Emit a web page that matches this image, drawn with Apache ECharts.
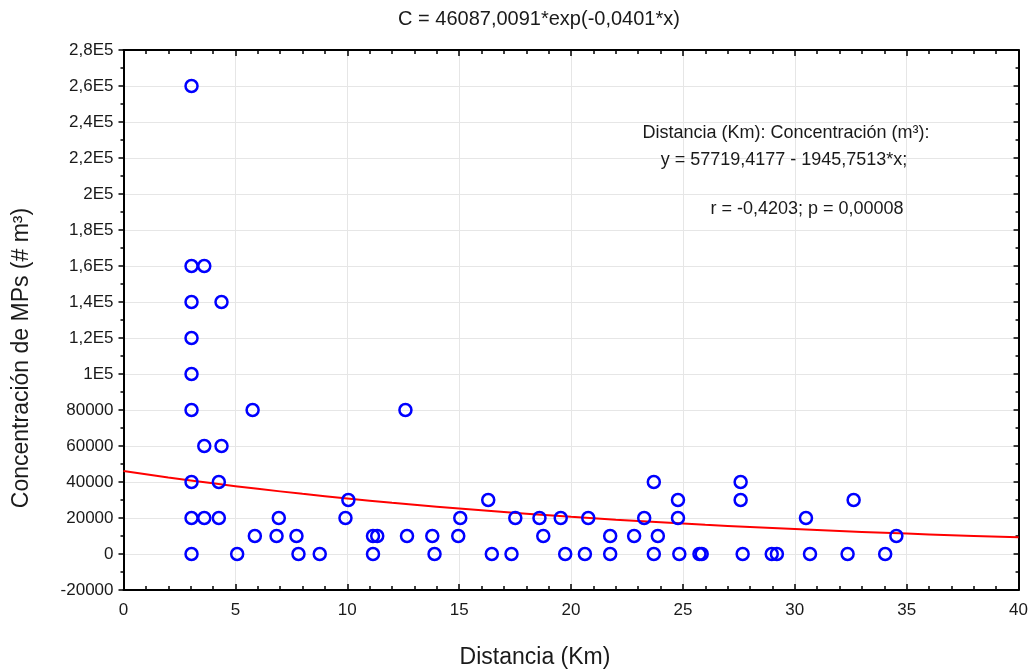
<!DOCTYPE html>
<html>
<head>
<meta charset="utf-8">
<script src="https://cdn.jsdelivr.net/npm/echarts@6/dist/echarts.min.js"></script>
<style>
  html, body { margin: 0; padding: 0; background: #fff; }
  #chart { width: 1031px; height: 669px; }
</style>
</head>
<body>
<div id="chart"></div>
<script>
// distance (km) of each sample
const distancia = [
  3.04, 3.04, 3.61, 3.04, 4.38, 3.04, 3.04, 3.04, 5.77, 3.61, 4.38,
  3.04, 4.26, 3.04, 3.61, 4.26, 6.94, 5.87, 6.84, 7.73, 3.04, 5.08,
  7.82, 8.77, 9.92, 10.05, 11.15, 11.34, 11.15, 12.6, 12.67, 13.8, 13.9,
  14.96, 15.05, 16.3, 16.46, 17.34, 17.51, 18.59, 18.76, 19.54, 19.74,
  20.77, 20.62, 21.75, 21.75, 22.82, 23.27, 23.7, 23.88, 23.7, 24.78,
  24.78, 24.84, 25.74, 25.84, 27.67, 27.58, 27.58, 28.97, 29.2, 30.5,
  30.68, 32.36, 32.63, 34.04, 34.54
];
// concentration (# m3) of each sample
const concentracion = [
  260000, 160000, 160000, 140000, 140000, 120000, 100000, 80000, 80000, 60000, 60000,
  40000, 40000, 20000, 20000, 20000, 20000, 10000, 10000, 10000, 0, 0,
  0, 0, 20000, 30000, 10000, 10000, 0, 80000, 10000, 10000, 0,
  10000, 20000, 30000, 0, 0, 20000, 20000, 10000, 20000, 0,
  20000, 0, 10000, 0, 10000, 20000, 40000, 10000, 0, 30000,
  20000, 0, 0, 0, 0, 40000, 30000, 0, 0, 20000,
  0, 0, 30000, 0, 10000
];
// exponential fit C = 46087,0091*exp(-0,0401*x)
const curvaX = [0, 2, 4, 6, 8, 10, 12, 14, 16, 18, 20, 22, 24, 26, 28, 30, 32, 34, 36, 38, 40];
const curvaY = [46087, 42535, 39257, 36231, 33439, 30862, 28484, 26288, 24262, 22393, 20667,
  19074, 17605, 16248, 14996, 13840, 12774, 11789, 10881, 10042, 9268];

const xTicks = ['0', '5', '10', '15', '20', '25', '30', '35', '40'];
const yTicks = ['-20000', '0', '20000', '40000', '60000', '80000', '1E5', '1,2E5', '1,4E5',
  '1,6E5', '1,8E5', '2E5', '2,2E5', '2,4E5', '2,6E5', '2,8E5'];

const titulo = 'C = 46087,0091*exp(-0,0401*x)';
const nombreX = 'Distancia (Km)';
const nombreY = 'Concentración de MPs (# m³)';
const nota = [
  'Distancia (Km): Concentración (m³):',
  'y = 57719,4177 - 1945,7513*x;',
  'r = -0,4203; p = 0,00008'
];

const font = '"Liberation Sans", Arial, sans-serif';
const ink = '#1a1a1a';
const puntos = distancia.map((d, i) => [d, concentracion[i]]);
const curva = curvaX.map((d, i) => [d, curvaY[i]]);

const chart = echarts.init(document.getElementById('chart'));

const axisLine = { show: true, onZero: false, lineStyle: { color: '#000', width: 2 } };
const tickStyle = { color: '#000', width: 1.5 };
const gridLine = { show: true, lineStyle: { color: '#e6e6e6', width: 1 } };

// free text placed on the canvas (title, axis names, fit note)
const txt = (x, y, text, size, rotation) => ({
  type: 'text', x: x, y: y, z: 100, rotation: rotation || 0,
  style: { text: text, fontFamily: font, fontSize: size, fill: ink,
    textAlign: 'center', textVerticalAlign: 'middle' }
});

chart.setOption({
  animation: false,
  backgroundColor: '#fff',
  grid: { left: 123.5, right: 11, top: 50, bottom: 79, containLabel: false },
  xAxis: [{
    type: 'value', min: 0, max: 40, interval: 5, position: 'bottom',
    axisLine: axisLine,
    axisTick: { show: true, inside: true, length: 6, lineStyle: tickStyle },
    minorTick: { show: true, splitNumber: 5, length: 4, lineStyle: tickStyle },
    axisLabel: {
      fontFamily: font, fontSize: 17, color: ink, margin: 12,
      formatter: v => xTicks[Math.round(v / 5)]
    },
    splitLine: gridLine
  }, {
    type: 'value', min: 0, max: 40, interval: 5, position: 'top',
    axisLine: axisLine,
    axisTick: { show: true, inside: true, length: 6, lineStyle: tickStyle },
    minorTick: { show: true, splitNumber: 5, length: 4, lineStyle: tickStyle },
    axisLabel: { show: false },
    splitLine: { show: false }
  }],
  yAxis: [{
    type: 'value', min: -20000, max: 280000, interval: 20000, position: 'left',
    axisLine: axisLine,
    axisTick: { show: true, inside: false, length: 5, lineStyle: tickStyle },
    minorTick: { show: true, splitNumber: 2, length: 3, lineStyle: tickStyle },
    axisLabel: {
      fontFamily: font, fontSize: 17, color: ink, margin: 10,
      formatter: v => yTicks[Math.round((v + 20000) / 20000)]
    },
    splitLine: gridLine
  }, {
    type: 'value', min: -20000, max: 280000, interval: 20000, position: 'right',
    axisLine: axisLine,
    axisTick: { show: true, inside: true, length: 5, lineStyle: tickStyle },
    minorTick: { show: true, splitNumber: 2, length: 3, lineStyle: tickStyle },
    axisLabel: { show: false },
    splitLine: { show: false }
  }],
  graphic: [
    txt(539, 19, titulo, 20),
    txt(535, 658, nombreX, 23),
    txt(22, 358, nombreY, 23, Math.PI / 2),
    txt(786, 133, nota[0], 18),
    txt(784, 160, nota[1], 18),
    txt(807, 209, nota[2], 18)
  ],
  series: [{
    type: 'line',
    data: curva,
    smooth: true,
    showSymbol: false,
    lineStyle: { color: '#ff0000', width: 2 },
    z: 2
  }, {
    type: 'scatter',
    data: puntos,
    symbol: 'circle',
    symbolSize: 12,
    itemStyle: { color: 'rgba(0,0,0,0)', borderColor: '#0000ff', borderWidth: 2.5, opacity: 1 },
    z: 3
  }]
});
</script>
</body>
</html>
